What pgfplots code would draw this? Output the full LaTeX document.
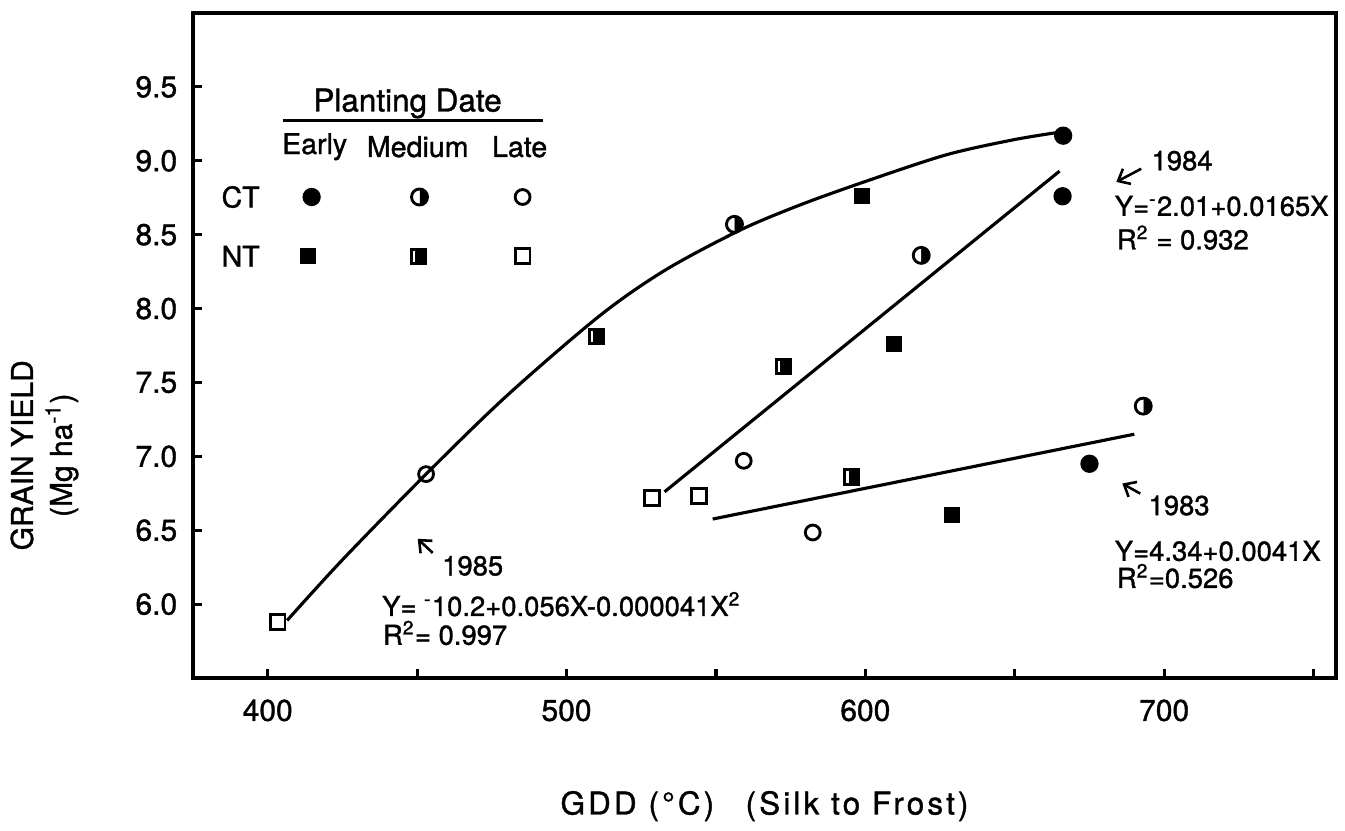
\documentclass[border=0pt]{standalone}
\usepackage{fontspec}
\setmainfont{TeX Gyre Heros}[FakeBold=1.2]
\usepackage{pgfplots}
\pgfplotsset{compat=1.18}
\usetikzlibrary{arrows.meta,plotmarks}

% square with its right part filled
\pgfdeclareplotmark{hsq}{%
  \pgfpathrectangle{\pgfpoint{-\pgfplotmarksize}{-\pgfplotmarksize}}{\pgfpoint{2\pgfplotmarksize}{2\pgfplotmarksize}}%
  \pgfusepathqstroke
  \pgfpathrectangle{\pgfpoint{-0.25\pgfplotmarksize}{-\pgfplotmarksize}}{\pgfpoint{1.25\pgfplotmarksize}{2\pgfplotmarksize}}%
  \pgfusepathqfillstroke
}

\begin{document}
\begin{tikzpicture}
\begin{axis}[
  scale only axis, width=400pt, height=232.75pt,
  xmin=375, xmax=757.5, ymin=5.5, ymax=10,
  axis line style={line width=1.4pt},
  tick style={line width=1.1pt, black},
  tick align=inside, major tick length=3pt, minor tick length=3pt,
  xtick={400,500,600,700}, minor xtick={450,550,650,750},
  ytick={6,6.5,7,7.5,8,8.5,9,9.5},
  xtick pos=bottom, ytick pos=left,
  yticklabel style={/pgf/number format/fixed, /pgf/number format/fixed zerofill, /pgf/number format/precision=1, xshift=-2pt},
  /pgf/number format/assume math mode=true,
  ticklabel style={font=\fontsize{10.5}{12}\selectfont},
  xticklabel style={yshift=-4pt},
  clip=false,
]
% 1985 curve, 1984 and 1983 lines
\addplot[smooth, line width=1.1pt] coordinates {(406.5,5.89)(425,6.30)(453,6.88)(480,7.41)(511,7.95)(533,8.26)(558,8.53)(578,8.70)(600,8.86)(627,9.04)(649,9.14)(663.8,9.19)};
\addplot[line width=1.1pt] coordinates {(532.8,6.76)(665,8.93)};
\addplot[line width=1.1pt] coordinates {(548.9,6.576)(690,7.15)};

% CT early
\addplot[only marks, mark=*, mark size=3pt, mark options={fill=black}] coordinates {(666.2,9.17)(666,8.76)(675,6.95)(414.7,8.755)};
% CT medium
\addplot[only marks, mark=halfcircle*, mark size=2.8pt, mark options={rotate=-90, fill=black, line width=1pt}] coordinates {(556.2,8.57)(618.7,8.36)(693,7.34)(450.8,8.755)};
% CT late
\addplot[only marks, mark=o, mark size=2.6pt, mark options={line width=1pt}] coordinates {(453,6.88)(559.3,6.97)(582.4,6.485)(485.3,8.755)};
% NT early
\addplot[only marks, mark=square*, mark size=2.6pt, mark options={fill=black}] coordinates {(599,8.76)(609.7,7.76)(629,6.60)(413.4,8.354)};
% NT medium
\addplot[only marks, mark=hsq, mark size=2.5pt, mark options={fill=black, line width=1pt}] coordinates {(510,7.81)(572.6,7.61)(595.5,6.86)(450.5,8.354)};
% NT late
\addplot[only marks, mark=square, mark size=2.6pt, mark options={line width=1pt}] coordinates {(403.3,5.88)(528.7,6.72)(544.3,6.73)(485.3,8.354)};

% legend
\node[font=\fontsize{11}{13}\selectfont] at (axis cs:446.8,9.388) {Planting Date};
\draw[line width=1.2pt] (axis cs:405,9.272) -- (axis cs:492,9.272);
\node[font=\fontsize{10}{12}\selectfont] at (axis cs:415.7,9.095) {Early};
\node[font=\fontsize{10}{12}\selectfont] at (axis cs:450.2,9.095) {Medium};
\node[font=\fontsize{10}{12}\selectfont] at (axis cs:484.3,9.095) {Late};
\node[anchor=east, font=\fontsize{10}{12}\selectfont] at (axis cs:400.7,8.755) {CT};
\node[anchor=east, font=\fontsize{10}{12}\selectfont] at (axis cs:400.7,8.354) {NT};

% annotations
\begin{scope}[every node/.style={font=\fontsize{9.6}{11}\selectfont, inner sep=0pt}]
\node at (axis cs:706,9.0) {1984};
\node[anchor=west] at (axis cs:683.3,8.694) {Y=\textsuperscript{-}2.01+0.0165X};
\node[anchor=west] at (axis cs:684,8.48) {R\textsuperscript{2} = 0.932};
\node at (axis cs:705,6.667) {1983};
\node[anchor=west] at (axis cs:683.3,6.36) {Y=4.34+0.0041X};
\node[anchor=west] at (axis cs:684,6.19) {R\textsuperscript{2}=0.526};
\node at (axis cs:468.6,6.259) {1985};
\node[anchor=west] at (axis cs:438.1,6.0) {Y= \textsuperscript{-}10.2+0.056X-0.000041X\textsuperscript{2}};
\node[anchor=west] at (axis cs:438.4,5.805) {R\textsuperscript{2}= 0.997};
\end{scope}
\draw[-{Straight Barb[length=3.5pt,width=6pt]}, line width=0.9pt] (axis cs:692.3,8.946) -- (axis cs:684,8.857);
\draw[-{Straight Barb[length=3.5pt,width=6pt]}, line width=0.9pt] (axis cs:692,6.748) -- (axis cs:686,6.816);
\draw[-{Straight Barb[length=3.5pt,width=6pt]}, line width=0.9pt] (axis cs:455.2,6.347) -- (axis cs:450.2,6.442);

% axis labels
\node[rotate=90, font=\fontsize{10.5}{12}\selectfont] at ([xshift=-59.85pt]rel axis cs:0,0.335) {GRAIN YIELD};
\node[rotate=90, font=\fontsize{10.5}{12}\selectfont] at ([xshift=-45.85pt]rel axis cs:0,0.335) {(Mg ha\textsuperscript{-1})};
\node[font=\fontsize{11}{13}\selectfont] at ([yshift=-44.8pt]rel axis cs:0.5,0) {\addfontfeature{LetterSpace=10}GDD (°C)\quad(Silk to Frost)};

\path ([xshift=-67.55pt,yshift=-51.8pt]rel axis cs:0,0) rectangle ([xshift=3.15pt,yshift=4.55pt]rel axis cs:1,1);
\end{axis}
\end{tikzpicture}
\end{document}
